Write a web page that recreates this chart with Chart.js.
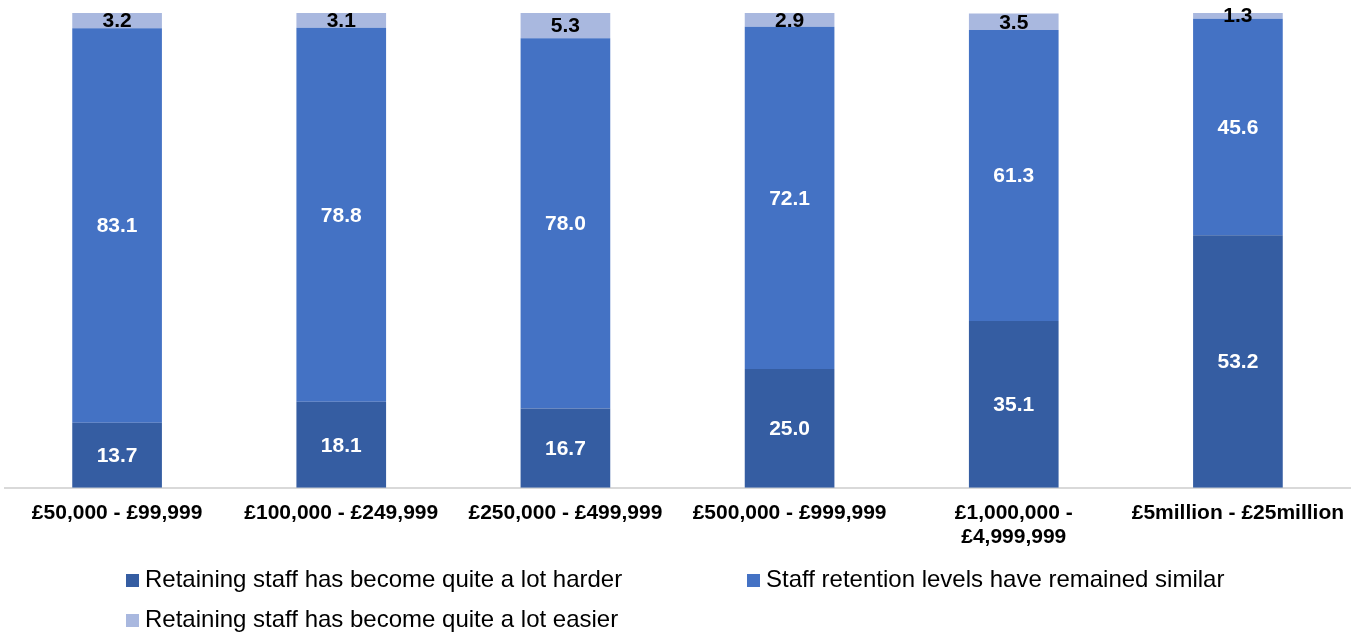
<!DOCTYPE html>
<html>
<head>
<meta charset="utf-8">
<script src="https://cdn.jsdelivr.net/npm/chart.js@4/dist/chart.umd.min.js"></script>
<style>
  html, body { margin: 0; padding: 0; background: #fff; }
  #wrap { position: relative; width: 1364px; height: 635px; }
  #c { position: absolute; left: 0; top: 0; }
  .leg { position: absolute; font-family: "Liberation Sans", Arial, sans-serif; font-size: 24px; color: #000; white-space: nowrap; line-height: 24px; }
  .leg span.box { display: inline-block; width: 13px; height: 13px; margin-right: 6px; vertical-align: baseline; }
</style>
</head>
<body>
<div id="wrap">
  <canvas id="c" width="1364" height="635"></canvas>
</div>
<script>
const categories = [
  "£50,000 - £99,999",
  "£100,000 - £249,999",
  "£250,000 - £499,999",
  "£500,000 - £999,999",
  ["£1,000,000 -", "£4,999,999"],
  "£5million - £25million"
];
const seriesNames = [
  "Retaining staff has become quite a lot harder",
  "Staff retention levels have remained similar",
  "Retaining staff has become quite a lot easier"
];
const harder  = [13.7, 18.1, 16.7, 25.0, 35.1, 53.2];
const similar = [83.1, 78.8, 78.0, 72.1, 61.3, 45.6];
const easier  = [3.2, 3.1, 5.3, 2.9, 3.5, 1.3];
const colors = ["#355DA2", "#4472C4", "#A9B8DF"];
const labelColors = ["#ffffff", "#ffffff", "#000000"];

const labelPlugin = {
  id: 'segLabels',
  afterDatasetsDraw(chart) {
    const ctx = chart.ctx;
    ctx.save();
    ctx.font = 'bold 21px "Liberation Sans", Arial, sans-serif';
    ctx.textAlign = 'center';
    ctx.textBaseline = 'middle';
    chart.data.datasets.forEach((ds, di) => {
      const meta = chart.getDatasetMeta(di);
      meta.data.forEach((bar, i) => {
        const v = ds.data[i];
        const p = bar.getProps(['x', 'y', 'base'], true);
        const yc = (p.y + p.base) / 2;
        ctx.fillStyle = labelColors[di];
        ctx.fillText(v.toFixed(1), p.x, yc + 1);
      });
    });
    ctx.restore();
  }
};

const chart = new Chart(document.getElementById('c'), {
  type: 'bar',
  data: {
    labels: categories,
    datasets: [
      { label: seriesNames[0], data: harder, backgroundColor: colors[0] },
      { label: seriesNames[1], data: similar, backgroundColor: colors[1] },
      { label: seriesNames[2], data: easier, backgroundColor: colors[2] }
    ]
  },
  options: {
    responsive: false,
    animation: false,
    layout: { padding: { left: 5, right: 14, top: 13, bottom: 81 } },
    datasets: { bar: { barPercentage: 0.8, categoryPercentage: 0.5, borderWidth: 0 } },
    plugins: { legend: { display: false }, tooltip: { enabled: false } },
    scales: {
      x: {
        stacked: true,
        grid: { display: false },
        border: { color: '#d9d9d9', width: 2 },
        ticks: {
          color: '#000',
          font: { family: '"Liberation Sans", Arial, sans-serif', size: 21, weight: 'bold', lineHeight: 1.15 },
          maxRotation: 0, autoSkip: false, padding: 5
        }
      },
      y: {
        stacked: true, display: false, min: 0, max: 100
      }
    }
  },
  plugins: [labelPlugin]
});

// HTML legend built from dataset labels
const legPos = [[126, 567], [747, 567], [126, 607]];
const wrap = document.getElementById('wrap');
seriesNames.forEach((n, i) => {
  const d = document.createElement('div');
  d.className = 'leg';
  d.style.left = legPos[i][0] + 'px';
  d.style.top = legPos[i][1] + 'px';
  d.innerHTML = '<span class="box" style="background:' + colors[i] + '"></span>' + n;
  wrap.appendChild(d);
});
</script>
</body>
</html>
